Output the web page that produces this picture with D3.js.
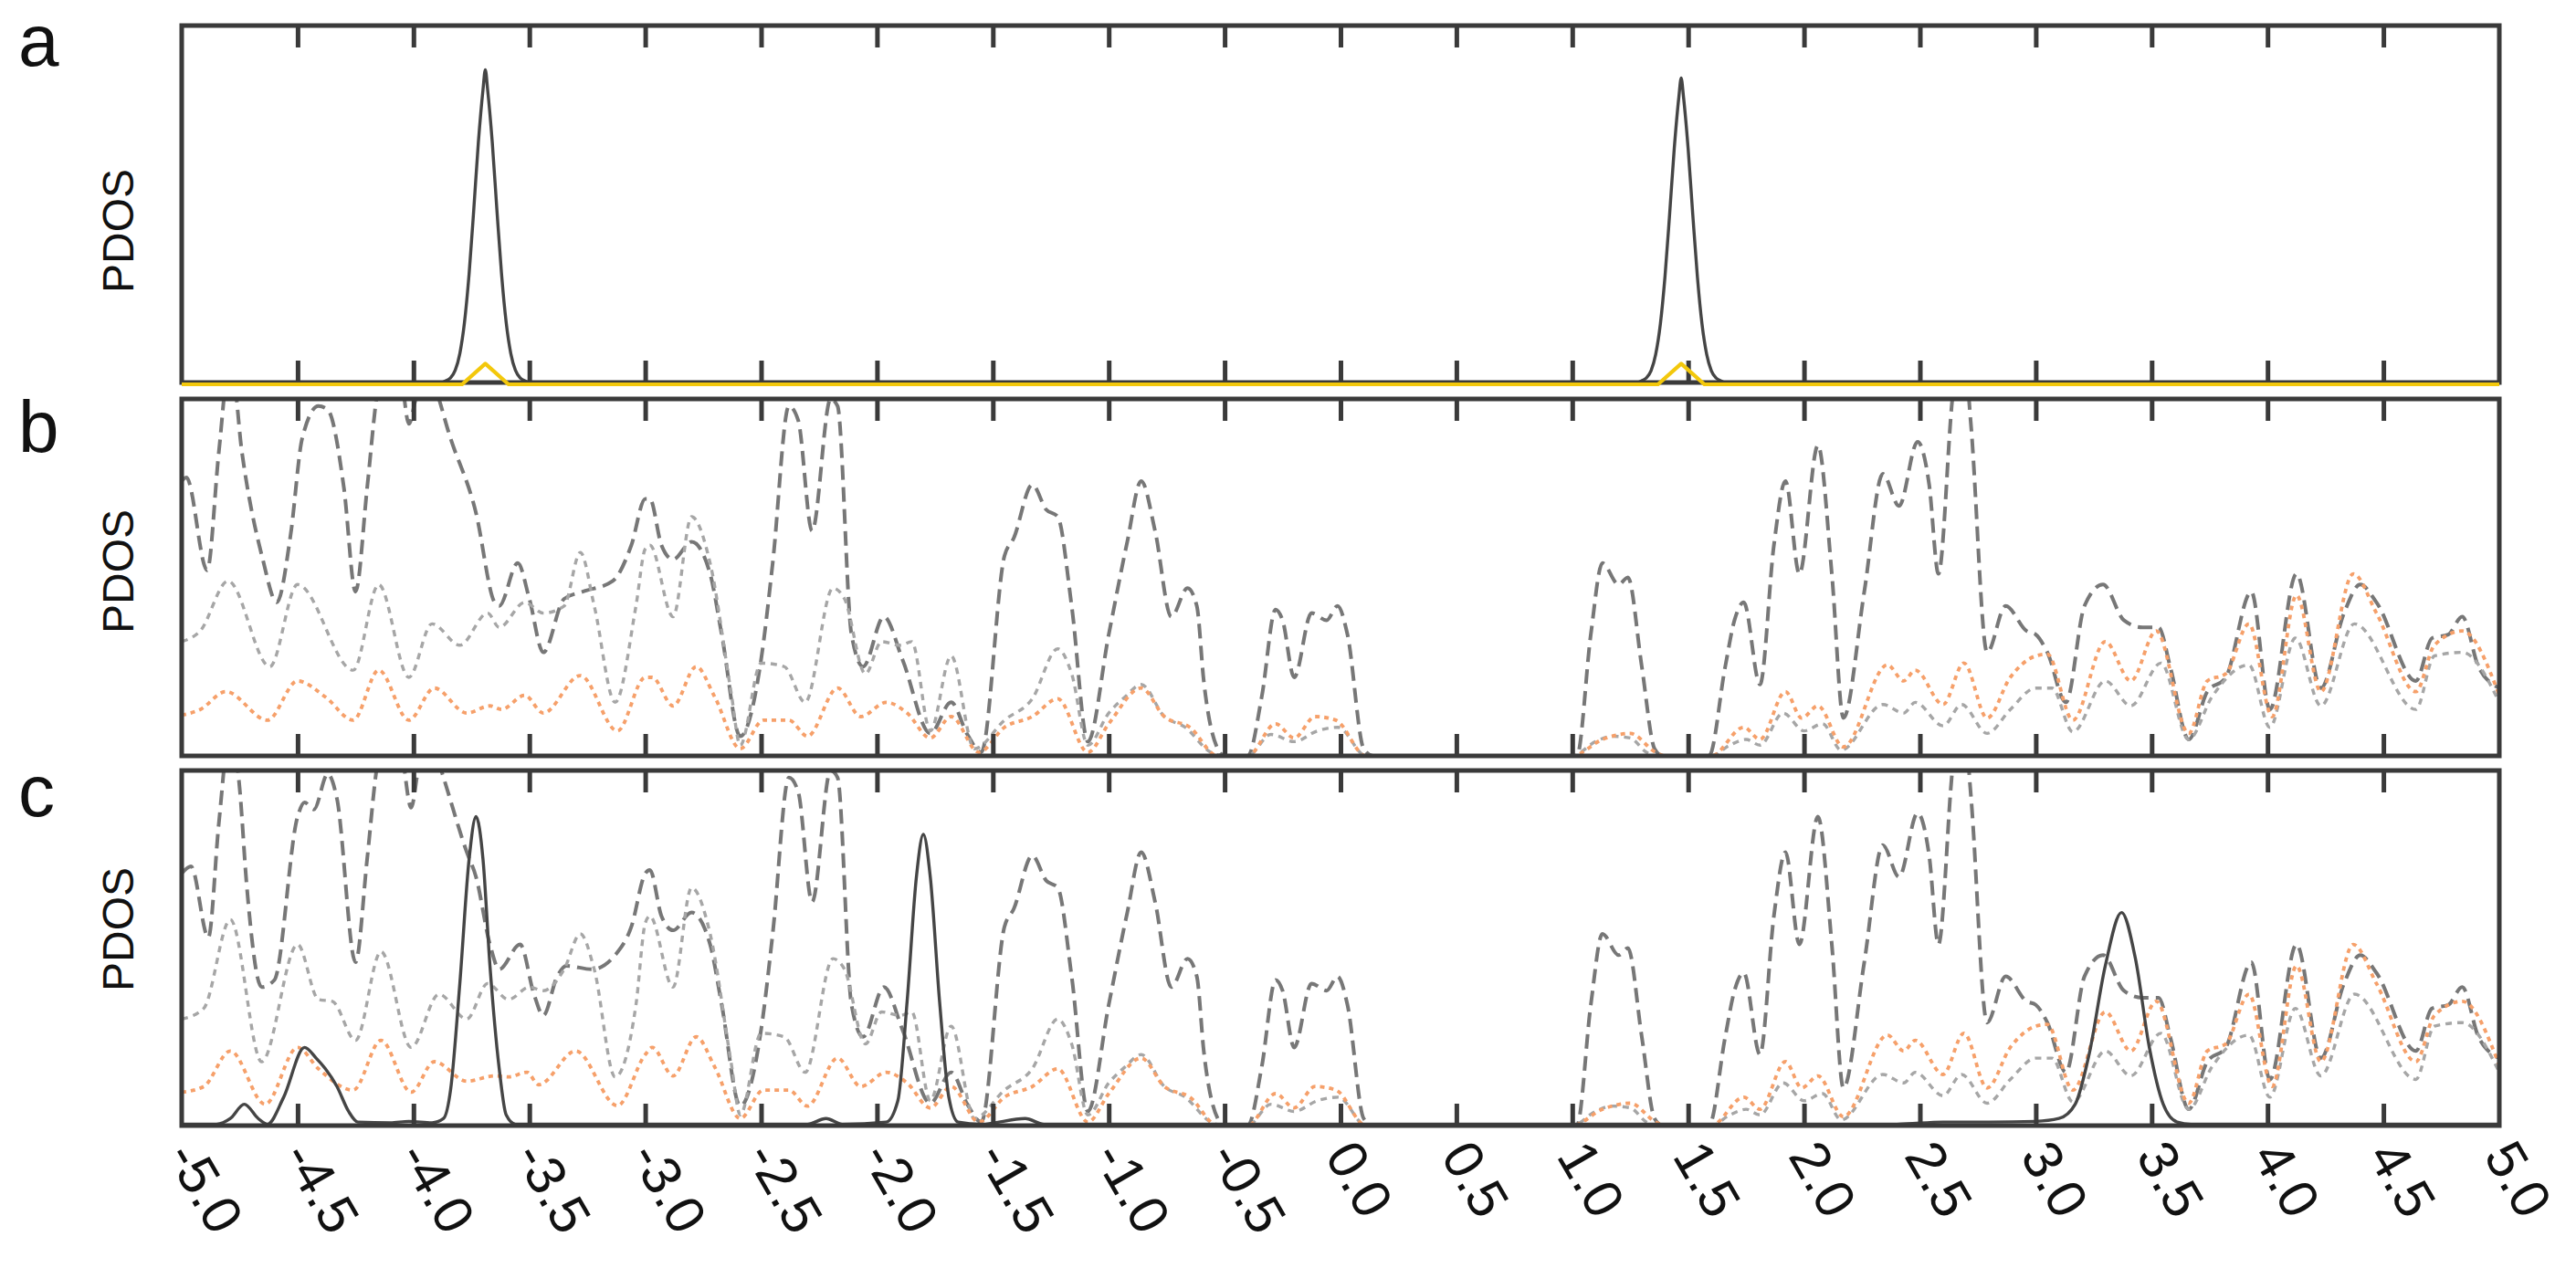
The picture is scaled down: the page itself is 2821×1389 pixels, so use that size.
<!DOCTYPE html>
<html><head><meta charset="utf-8">
<script src="https://cdn.jsdelivr.net/npm/d3@7"></script>
<style>body{margin:0;background:#fff}svg{display:block}</style>
</head><body>
<svg id="chart" width="2821" height="1389"></svg>
<script>
// ---------- data ----------
const tickValues = [-5,-4.5,-4,-3.5,-3,-2.5,-2,-1.5,-1,-0.5,0,0.5,1,1.5,2,2.5,3,3.5,4,4.5,5];
const tickLabels = ["-5.0","-4.5","-4.0","-3.5","-3.0","-2.5","-2.0","-1.5","-1.0","-0.5","0.0","0.5","1.0","1.5","2.0","2.5","3.0","3.5","4.0","4.5","5.0"];
const panelLetters = ["a","b","c"];
const yLabel = "PDOS";

// panel a : solid dark and yellow
const aSolid = [[-5,0],[-3.88,0],[-3.86,0.005],[-3.84,0.013],[-3.82,0.034],[-3.80,0.081],[-3.78,0.168],[-3.76,0.304],[-3.74,0.483],[-3.72,0.673],[-3.70,0.82],[-3.69,0.876],[-3.68,0.82],[-3.66,0.673],[-3.64,0.483],[-3.62,0.304],[-3.60,0.168],[-3.58,0.081],[-3.56,0.034],[-3.54,0.013],[-3.52,0.005],[-3.50,0],
  [1.28,0],[1.30,0.005],[1.32,0.013],[1.34,0.033],[1.36,0.079],[1.38,0.163],[1.40,0.296],[1.42,0.47],[1.44,0.655],[1.46,0.80],[1.47,0.853],[1.48,0.80],[1.50,0.655],[1.52,0.47],[1.54,0.296],[1.56,0.163],[1.58,0.079],[1.60,0.033],[1.62,0.013],[1.64,0.005],[1.66,0],[5,0]];
const aYellow = [[-5,0],[-3.79,0],[-3.69,0.058],[-3.59,0],[1.37,0],[1.47,0.058],[1.57,0],[5,0]];

// panel b : long dash (grey), short dash (light grey), dotted (orange)
const bDash = [[-5.0,0.77],[-4.98,0.78],[-4.89,0.52],[-4.84,0.85],[-4.79,1.12],[-4.74,0.85],[-4.65,0.55],[-4.59,0.43],[-4.53,0.62],[-4.48,0.89],[-4.41,0.98],[-4.37,0.97],[-4.30,0.75],[-4.25,0.46],[-4.20,0.75],[-4.16,1.0],[-4.10,1.15],[-4.05,1.05],[-4.02,0.93],[-3.99,1.0],[-3.94,1.1],[-3.89,1.0],[-3.85,0.91],[-3.73,0.68],[-3.65,0.43],[-3.63,0.42],[-3.55,0.54],[-3.50,0.44],[-3.44,0.29],[-3.35,0.44],[-3.27,0.46],[-3.14,0.49],[-3.06,0.59],[-3.0,0.72],[-2.98,0.72],[-2.93,0.59],[-2.88,0.55],[-2.80,0.60],[-2.72,0.51],[-2.67,0.34],[-2.59,0.055],[-2.5,0.27],[-2.45,0.54],[-2.38,0.98],[-2.34,0.94],[-2.28,0.63],[-2.2,1.0],[-2.17,0.98],[-2.11,0.34],[-2.06,0.25],[-1.97,0.39],[-1.89,0.27],[-1.77,0.063],[-1.68,0.15],[-1.61,0.06],[-1.55,0.01],[-1.45,0.56],[-1.41,0.61],[-1.33,0.76],[-1.27,0.69],[-1.22,0.67],[-1.16,0.42],[-1.09,0.04],[-1.0,0.34],[-0.92,0.6],[-0.86,0.77],[-0.80,0.63],[-0.73,0.39],[-0.66,0.47],[-0.62,0.42],[-0.59,0.21],[-0.53,0.02],[-0.5,0.0],[-0.40,0.0],[-0.34,0.165],[-0.28,0.41],[-0.25,0.38],[-0.2,0.22],[-0.125,0.40],[-0.06,0.38],[-0.013,0.42],[0.03,0.34],[0.10,0.02],[0.14,0.0],[1.0,0.0],[1.02,0.0],[1.08,0.34],[1.13,0.54],[1.20,0.48],[1.24,0.50],[1.30,0.25],[1.355,0.02],[1.39,0.0],[1.59,0.0],[1.66,0.25],[1.70,0.38],[1.74,0.43],[1.81,0.20],[1.87,0.59],[1.92,0.77],[1.98,0.51],[2.06,0.87],[2.12,0.51],[2.17,0.106],[2.26,0.46],[2.34,0.79],[2.41,0.70],[2.49,0.88],[2.54,0.76],[2.58,0.51],[2.64,1.0],[2.68,1.2],[2.72,0.93],[2.79,0.29],[2.87,0.42],[2.96,0.35],[3.0,0.34],[3.05,0.29],[3.13,0.15],[3.21,0.42],[3.29,0.48],[3.38,0.38],[3.46,0.36],[3.53,0.36],[3.58,0.25],[3.66,0.046],[3.74,0.18],[3.82,0.22],[3.93,0.46],[4.01,0.13],[4.125,0.51],[4.23,0.19],[4.33,0.40],[4.40,0.48],[4.47,0.43],[4.64,0.21],[4.71,0.33],[4.78,0.34],[4.84,0.39],[4.91,0.25],[5.0,0.19]];
const bDot = [[-5.0,0.32],[-4.92,0.35],[-4.8,0.49],[-4.62,0.25],[-4.5,0.48],[-4.26,0.24],[-4.15,0.48],[-4.02,0.22],[-3.92,0.37],[-3.8,0.31],[-3.68,0.40],[-3.63,0.36],[-3.52,0.43],[-3.44,0.40],[-3.35,0.42],[-3.28,0.57],[-3.22,0.42],[-3.13,0.15],[-3.04,0.42],[-3.0,0.58],[-2.98,0.59],[-2.88,0.39],[-2.80,0.67],[-2.72,0.54],[-2.63,0.18],[-2.59,0.03],[-2.5,0.26],[-2.40,0.25],[-2.31,0.15],[-2.19,0.47],[-2.14,0.44],[-2.05,0.23],[-1.98,0.32],[-1.90,0.31],[-1.85,0.32],[-1.77,0.07],[-1.68,0.28],[-1.58,0.02],[-1.45,0.10],[-1.33,0.16],[-1.22,0.30],[-1.16,0.23],[-1.09,0.03],[-1.0,0.12],[-0.93,0.165],[-0.86,0.20],[-0.76,0.11],[-0.67,0.08],[-0.56,0.01],[-0.5,0.0],[-0.40,0.0],[-0.30,0.06],[-0.2,0.04],[-0.10,0.07],[-0.01,0.08],[0.11,0.0],[1.0,0.0],[1.1,0.04],[1.17,0.055],[1.25,0.05],[1.32,0.01],[1.36,0.0],[1.60,0.0],[1.68,0.03],[1.75,0.046],[1.81,0.03],[1.91,0.12],[2.0,0.07],[2.08,0.09],[2.16,0.016],[2.34,0.144],[2.43,0.12],[2.48,0.15],[2.60,0.084],[2.68,0.144],[2.79,0.063],[2.89,0.13],[3.0,0.19],[3.07,0.19],[3.16,0.067],[3.30,0.21],[3.41,0.14],[3.54,0.26],[3.66,0.046],[3.76,0.165],[3.92,0.255],[4.01,0.08],[4.12,0.33],[4.23,0.14],[4.375,0.37],[4.64,0.13],[4.72,0.28],[4.84,0.29],[5.0,0.15]];
const bOrange = [[-5.0,0.114],[-4.92,0.13],[-4.81,0.18],[-4.63,0.10],[-4.5,0.21],[-4.38,0.165],[-4.26,0.10],[-4.15,0.24],[-4.02,0.10],[-3.91,0.19],[-3.77,0.12],[-3.67,0.14],[-3.62,0.13],[-3.52,0.17],[-3.44,0.12],[-3.28,0.225],[-3.12,0.07],[-3.0,0.22],[-2.97,0.22],[-2.88,0.14],[-2.78,0.25],[-2.70,0.165],[-2.59,0.02],[-2.49,0.10],[-2.38,0.10],[-2.30,0.055],[-2.17,0.19],[-2.07,0.11],[-1.96,0.15],[-1.87,0.12],[-1.77,0.05],[-1.68,0.11],[-1.56,0.01],[-1.45,0.08],[-1.33,0.11],[-1.22,0.16],[-1.09,0.01],[-1.0,0.09],[-0.86,0.19],[-0.76,0.11],[-0.65,0.08],[-0.53,0.0],[-0.40,0.0],[-0.28,0.09],[-0.2,0.05],[-0.11,0.11],[-0.02,0.10],[0.11,0.0],[1.0,0.0],[1.13,0.046],[1.25,0.063],[1.36,0.01],[1.40,0.0],[1.60,0.0],[1.74,0.08],[1.81,0.046],[1.92,0.18],[1.99,0.106],[2.06,0.14],[2.17,0.025],[2.36,0.255],[2.43,0.21],[2.48,0.24],[2.60,0.144],[2.69,0.26],[2.79,0.106],[2.89,0.22],[3.0,0.28],[3.05,0.285],[3.16,0.10],[3.30,0.32],[3.41,0.21],[3.52,0.35],[3.66,0.063],[3.74,0.21],[3.82,0.23],[3.92,0.37],[4.02,0.11],[4.125,0.45],[4.23,0.18],[4.37,0.51],[4.47,0.40],[4.64,0.18],[4.72,0.31],[4.84,0.35],[5.0,0.17]];

// panel c : same families plus a solid dark curve
const cDash = [[-5.0,0.71],[-4.96,0.73],[-4.885,0.53],[-4.84,0.85],[-4.79,1.12],[-4.75,0.95],[-4.72,0.68],[-4.655,0.39],[-4.60,0.41],[-4.50,0.87],[-4.47,0.91],[-4.43,0.89],[-4.37,0.99],[-4.33,0.92],[-4.25,0.46],[-4.20,0.75],[-4.16,1.0],[-4.10,1.15],[-4.05,1.05],[-4.01,0.895],[-3.98,1.0],[-3.93,1.1],[-3.88,1.0],[-3.77,0.77],[-3.73,0.70],[-3.67,0.51],[-3.63,0.44],[-3.54,0.51],[-3.48,0.37],[-3.44,0.31],[-3.38,0.42],[-3.34,0.45],[-3.23,0.44],[-3.13,0.48],[-3.06,0.56],[-3.0,0.71],[-2.98,0.72],[-2.93,0.59],[-2.88,0.55],[-2.80,0.60],[-2.72,0.51],[-2.67,0.34],[-2.59,0.055],[-2.5,0.27],[-2.45,0.54],[-2.38,0.98],[-2.34,0.94],[-2.28,0.63],[-2.2,1.0],[-2.17,0.98],[-2.11,0.34],[-2.06,0.25],[-1.97,0.39],[-1.89,0.27],[-1.77,0.063],[-1.68,0.15],[-1.61,0.06],[-1.55,0.01],[-1.45,0.56],[-1.41,0.61],[-1.33,0.76],[-1.27,0.69],[-1.22,0.67],[-1.16,0.42],[-1.09,0.04],[-1.0,0.34],[-0.92,0.6],[-0.86,0.77],[-0.80,0.63],[-0.73,0.39],[-0.66,0.47],[-0.62,0.42],[-0.59,0.21],[-0.53,0.02],[-0.5,0.0],[-0.40,0.0],[-0.34,0.165],[-0.28,0.41],[-0.25,0.38],[-0.2,0.22],[-0.125,0.40],[-0.06,0.38],[-0.013,0.42],[0.03,0.34],[0.10,0.02],[0.14,0.0],[1.0,0.0],[1.02,0.0],[1.08,0.34],[1.13,0.54],[1.20,0.48],[1.24,0.50],[1.30,0.25],[1.355,0.02],[1.39,0.0],[1.59,0.0],[1.66,0.25],[1.70,0.38],[1.74,0.43],[1.81,0.20],[1.87,0.59],[1.92,0.77],[1.98,0.51],[2.06,0.87],[2.12,0.51],[2.17,0.106],[2.26,0.46],[2.34,0.79],[2.41,0.70],[2.49,0.88],[2.54,0.76],[2.58,0.51],[2.64,1.0],[2.68,1.2],[2.72,0.93],[2.79,0.29],[2.87,0.42],[2.96,0.35],[3.0,0.34],[3.05,0.29],[3.13,0.15],[3.21,0.42],[3.29,0.48],[3.38,0.38],[3.46,0.36],[3.53,0.36],[3.58,0.25],[3.66,0.046],[3.74,0.18],[3.82,0.22],[3.93,0.46],[4.01,0.13],[4.125,0.51],[4.23,0.19],[4.33,0.40],[4.40,0.48],[4.47,0.43],[4.64,0.21],[4.71,0.33],[4.78,0.34],[4.84,0.39],[4.91,0.25],[5.0,0.19]];
const cDot = [[-5.0,0.30],[-4.905,0.33],[-4.79,0.58],[-4.655,0.18],[-4.5,0.51],[-4.41,0.355],[-4.35,0.35],[-4.25,0.24],[-4.14,0.49],[-4.01,0.22],[-3.89,0.37],[-3.77,0.30],[-3.68,0.40],[-3.59,0.355],[-3.5,0.39],[-3.44,0.38],[-3.35,0.44],[-3.28,0.54],[-3.22,0.44],[-3.13,0.137],[-3.04,0.34],[-3.0,0.57],[-2.98,0.59],[-2.88,0.39],[-2.80,0.67],[-2.72,0.54],[-2.63,0.18],[-2.59,0.03],[-2.5,0.26],[-2.40,0.25],[-2.31,0.15],[-2.19,0.47],[-2.14,0.44],[-2.05,0.23],[-1.98,0.32],[-1.90,0.31],[-1.85,0.32],[-1.77,0.07],[-1.68,0.28],[-1.58,0.02],[-1.45,0.10],[-1.33,0.16],[-1.22,0.30],[-1.16,0.23],[-1.09,0.03],[-1.0,0.12],[-0.93,0.165],[-0.86,0.20],[-0.76,0.11],[-0.67,0.08],[-0.56,0.01],[-0.5,0.0],[-0.40,0.0],[-0.30,0.06],[-0.2,0.04],[-0.10,0.07],[-0.01,0.08],[0.11,0.0],[1.0,0.0],[1.1,0.04],[1.17,0.055],[1.25,0.05],[1.32,0.01],[1.36,0.0],[1.60,0.0],[1.68,0.03],[1.75,0.046],[1.81,0.03],[1.91,0.12],[2.0,0.07],[2.08,0.09],[2.16,0.016],[2.34,0.144],[2.43,0.12],[2.48,0.15],[2.60,0.084],[2.68,0.144],[2.79,0.063],[2.89,0.13],[3.0,0.19],[3.07,0.19],[3.16,0.067],[3.30,0.21],[3.41,0.14],[3.54,0.26],[3.66,0.046],[3.76,0.165],[3.92,0.255],[4.01,0.08],[4.12,0.33],[4.23,0.14],[4.375,0.37],[4.64,0.13],[4.72,0.28],[4.84,0.29],[5.0,0.15]];
const cOrange = [[-5.0,0.094],[-4.905,0.11],[-4.79,0.21],[-4.64,0.06],[-4.5,0.22],[-4.41,0.16],[-4.26,0.10],[-4.14,0.24],[-4.01,0.094],[-3.91,0.18],[-3.77,0.125],[-3.65,0.14],[-3.59,0.137],[-3.51,0.15],[-3.46,0.115],[-3.30,0.21],[-3.12,0.056],[-3.0,0.20],[-2.97,0.22],[-2.88,0.14],[-2.78,0.25],[-2.70,0.165],[-2.59,0.02],[-2.49,0.10],[-2.38,0.10],[-2.30,0.055],[-2.17,0.19],[-2.07,0.11],[-1.96,0.15],[-1.87,0.12],[-1.77,0.05],[-1.68,0.11],[-1.56,0.01],[-1.45,0.08],[-1.33,0.11],[-1.22,0.16],[-1.09,0.01],[-1.0,0.09],[-0.86,0.19],[-0.76,0.11],[-0.65,0.08],[-0.53,0.0],[-0.40,0.0],[-0.28,0.09],[-0.2,0.05],[-0.11,0.11],[-0.02,0.10],[0.11,0.0],[1.0,0.0],[1.13,0.046],[1.25,0.063],[1.36,0.01],[1.40,0.0],[1.60,0.0],[1.74,0.08],[1.81,0.046],[1.92,0.18],[1.99,0.106],[2.06,0.14],[2.17,0.025],[2.36,0.255],[2.43,0.21],[2.48,0.24],[2.60,0.144],[2.69,0.26],[2.79,0.106],[2.89,0.22],[3.0,0.28],[3.05,0.285],[3.16,0.10],[3.30,0.32],[3.41,0.21],[3.52,0.35],[3.66,0.063],[3.74,0.21],[3.82,0.23],[3.92,0.37],[4.02,0.11],[4.125,0.45],[4.23,0.18],[4.37,0.51],[4.47,0.40],[4.64,0.18],[4.72,0.31],[4.84,0.35],[5.0,0.17]];
const cSolid = [[-5.0,0.004],[-4.85,0.004],[-4.79,0.02],[-4.73,0.06],[-4.67,0.02],[-4.63,0.004],[-4.56,0.08],[-4.47,0.22],[-4.42,0.19],[-4.38,0.16],[-4.33,0.11],[-4.28,0.04],[-4.24,0.01],[-4.1,0.008],[-4.02,0.012],[-3.92,0.008],[-3.87,0.02],[-3.84,0.10],[-3.80,0.40],[-3.76,0.75],[-3.73,0.87],[-3.70,0.75],[-3.67,0.45],[-3.63,0.16],[-3.60,0.03],[-3.56,0.004],[-2.3,0.004],[-2.22,0.02],[-2.15,0.004],[-1.96,0.01],[-1.91,0.07],[-1.87,0.35],[-1.83,0.70],[-1.80,0.82],[-1.77,0.70],[-1.73,0.35],[-1.69,0.08],[-1.65,0.01],[-1.55,0.004],[-1.36,0.02],[-1.28,0.004],[2.4,0.004],[2.6,0.01],[2.8,0.01],[3.0,0.012],[3.1,0.02],[3.17,0.06],[3.23,0.20],[3.30,0.45],[3.37,0.60],[3.43,0.47],[3.49,0.22],[3.55,0.06],[3.61,0.01],[3.67,0.004],[5.0,0.004]];

// ---------- layout ----------
const W = 2821, H = 1389;
const L = 199, R = 2737;
const panels = [
  {top:28,  bottom:419,  label:253},
  {top:437, bottom:828,  label:626},
  {top:844, bottom:1233, label:1018}
];
const letterY = [72, 495, 894];
const C = {dark:"#3a3a3a", dash:"#777777", dot:"#a6a6a6", orange:"#f6a06a", solid:"#454545", yellow:"#f3c80c"};
const FONT = "'Liberation Sans', Arial, Helvetica, sans-serif";

const svg = d3.select("#chart");
svg.append("rect").attr("width",W).attr("height",H).attr("fill","#fff");
const x = d3.scaleLinear().domain([-5,5]).range([L,R]);

const seriesByPanel = [
  [{d:aSolid, c:C.solid, w:3.4, dash:null}],
  [{d:bDash, c:C.dash, w:4, dash:"16,8"},
   {d:bDot, c:C.dot, w:3.4, dash:"7,6"},
   {d:bOrange, c:C.orange, w:3.8, dash:"5,5"}],
  [{d:cDash, c:C.dash, w:4, dash:"16,8"},
   {d:cDot, c:C.dot, w:3.4, dash:"7,6"},
   {d:cOrange, c:C.orange, w:3.8, dash:"5,5"},
   {d:cSolid, c:C.solid, w:3.4, dash:null}]
];

panels.forEach((p,i)=>{
  const y = d3.scaleLinear().domain([0,1]).range([p.bottom, p.top]);
  const g = svg.append("g");
  const cid = "clip"+i;
  svg.append("clipPath").attr("id",cid).append("rect")
    .attr("x",L).attr("y",p.top).attr("width",R-L).attr("height",p.bottom-p.top+2);
  const lg = g.append("g").attr("clip-path",`url(#${cid})`);
  seriesByPanel[i].forEach(s=>{
    const line = d3.line().x(d=>x(d[0])).y(d=>y(d[1])).curve(d3.curveMonotoneX);
    lg.append("path").datum(s.d).attr("d",line).attr("fill","none")
      .attr("stroke",s.c).attr("stroke-width",s.w)
      .attr("stroke-dasharray",s.dash).attr("stroke-linejoin","round");
  });
  const inner = tickValues.slice(1,-1);
  g.append("g").attr("transform",`translate(0,${p.bottom})`)
    .call(d3.axisBottom(x).tickValues(inner).tickSize(-24).tickFormat(""))
    .call(a=>{a.select(".domain").remove(); a.selectAll("line").attr("stroke",C.dark).attr("stroke-width",5);});
  g.append("g").attr("transform",`translate(0,${p.top})`)
    .call(d3.axisTop(x).tickValues(inner).tickSize(-24).tickFormat(""))
    .call(a=>{a.select(".domain").remove(); a.selectAll("line").attr("stroke",C.dark).attr("stroke-width",5);});
  g.append("rect").attr("x",L).attr("y",p.top).attr("width",R-L).attr("height",p.bottom-p.top)
    .attr("fill","none").attr("stroke",C.dark).attr("stroke-width",5);
  if(i===0){
    const line = d3.line().x(d=>x(d[0])).y(d=>y(d[1]));
    g.append("path").datum(aYellow).attr("d",line).attr("fill","none")
      .attr("stroke",C.yellow).attr("stroke-width",4.2).attr("stroke-linejoin","round")
      .attr("transform","translate(0,2)");
  }
  svg.append("text").attr("transform",`translate(146,${p.label}) rotate(-90)`)
    .attr("text-anchor","middle").attr("font-family",FONT).attr("font-size",48)
    .attr("fill","#111").text(yLabel);
  svg.append("text").attr("x",20).attr("y",letterY[i]).attr("font-family",FONT)
    .attr("font-size",80).attr("fill","#111").text(panelLetters[i]);
});

const labG = svg.append("g");
tickValues.forEach((t,k)=>{
  labG.append("text")
    .attr("transform",`translate(${x(t)-18},1266) rotate(60)`)
    .attr("font-family",FONT).attr("font-size",60).attr("fill","#111")
    .text(tickLabels[k]);
});
</script>
</body></html>
